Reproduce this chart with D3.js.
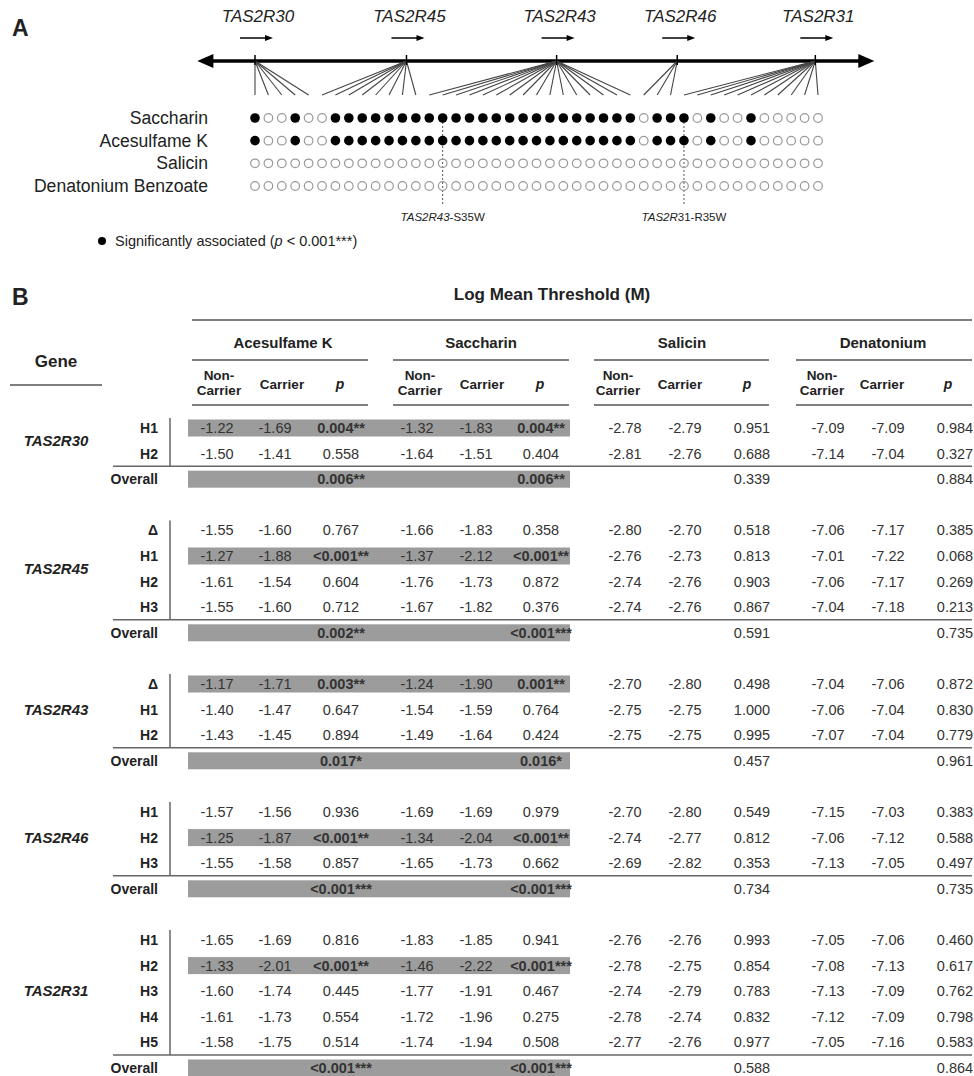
<!DOCTYPE html>
<html>
<head>
<meta charset="utf-8">
<script src="https://cdn.jsdelivr.net/npm/d3@7"></script>
<style>
  body { margin: 0; background: #fff; }
  svg { display: block; }
  text { font-family: "Liberation Sans", Arial, sans-serif; fill: #222; }
</style>
</head>
<body>
<script>
// ---------- panel A data ----------
var genes = ["TAS2R30", "TAS2R45", "TAS2R43", "TAS2R46", "TAS2R31"];
// gene locus, in SNP-index units along the chromosome
var geneLocus = [0, 11.3, 22.5, 31.5, 41.8];
// number of SNPs tested in each gene
var snpCount = [5, 8, 16, 3, 11];
var compoundsA = ["Saccharin", "Acesulfame K", "Salicin", "Denatonium Benzoate"];
// 1 = significantly associated
var saccharinSig   = [1,0,0,1,0,0,1,1,1,1,1,1,1,1,1,1,1,1,1,1,1,1,1,1,1,1,1,1,1,0,1,1,1,0,1,0,0,1,0,0,0,0,0];
var acesulfameSig  = [1,0,0,1,0,0,1,1,1,1,1,1,1,1,1,1,1,1,1,1,1,1,1,1,1,1,1,1,1,0,1,1,1,0,1,0,0,1,0,0,0,0,0];
var salicinSig     = [0,0,0,0,0,0,0,0,0,0,0,0,0,0,0,0,0,0,0,0,0,0,0,0,0,0,0,0,0,0,0,0,0,0,0,0,0,0,0,0,0,0,0];
var denatoniumSig  = [0,0,0,0,0,0,0,0,0,0,0,0,0,0,0,0,0,0,0,0,0,0,0,0,0,0,0,0,0,0,0,0,0,0,0,0,0,0,0,0,0,0,0];
var mutationSnp = [14, 32];
var mutationGene = ["TAS2R43", "TAS2R"];
var mutationRest = ["-S35W", "31-R35W"];

// ---------- panel B data ----------
var compoundsB = ["Acesulfame K", "Saccharin", "Salicin", "Denatonium"];
var haplotypes = [["H1", "H2"], ["\u0394", "H1", "H2", "H3"], ["\u0394", "H1", "H2"], ["H1", "H2", "H3"], ["H1", "H2", "H3", "H4", "H5"]];
// [non-carrier, carrier, p] per gene, per haplotype
var acesulfameK = [
  [[-1.22, -1.69, "0.004**"], [-1.50, -1.41, "0.558"]],
  [[-1.55, -1.60, "0.767"], [-1.27, -1.88, "<0.001**"], [-1.61, -1.54, "0.604"], [-1.55, -1.60, "0.712"]],
  [[-1.17, -1.71, "0.003**"], [-1.40, -1.47, "0.647"], [-1.43, -1.45, "0.894"]],
  [[-1.57, -1.56, "0.936"], [-1.25, -1.87, "<0.001**"], [-1.55, -1.58, "0.857"]],
  [[-1.65, -1.69, "0.816"], [-1.33, -2.01, "<0.001**"], [-1.60, -1.74, "0.445"], [-1.61, -1.73, "0.554"], [-1.58, -1.75, "0.514"]]
];
var saccharin = [
  [[-1.32, -1.83, "0.004**"], [-1.64, -1.51, "0.404"]],
  [[-1.66, -1.83, "0.358"], [-1.37, -2.12, "<0.001**"], [-1.76, -1.73, "0.872"], [-1.67, -1.82, "0.376"]],
  [[-1.24, -1.90, "0.001**"], [-1.54, -1.59, "0.764"], [-1.49, -1.64, "0.424"]],
  [[-1.69, -1.69, "0.979"], [-1.34, -2.04, "<0.001**"], [-1.65, -1.73, "0.662"]],
  [[-1.83, -1.85, "0.941"], [-1.46, -2.22, "<0.001***"], [-1.77, -1.91, "0.467"], [-1.72, -1.96, "0.275"], [-1.74, -1.94, "0.508"]]
];
var salicin = [
  [[-2.78, -2.79, "0.951"], [-2.81, -2.76, "0.688"]],
  [[-2.80, -2.70, "0.518"], [-2.76, -2.73, "0.813"], [-2.74, -2.76, "0.903"], [-2.74, -2.76, "0.867"]],
  [[-2.70, -2.80, "0.498"], [-2.75, -2.75, "1.000"], [-2.75, -2.75, "0.995"]],
  [[-2.70, -2.80, "0.549"], [-2.74, -2.77, "0.812"], [-2.69, -2.82, "0.353"]],
  [[-2.76, -2.76, "0.993"], [-2.78, -2.75, "0.854"], [-2.74, -2.79, "0.783"], [-2.78, -2.74, "0.832"], [-2.77, -2.76, "0.977"]]
];
var denatonium = [
  [[-7.09, -7.09, "0.984"], [-7.14, -7.04, "0.327"]],
  [[-7.06, -7.17, "0.385"], [-7.01, -7.22, "0.068"], [-7.06, -7.17, "0.269"], [-7.04, -7.18, "0.213"]],
  [[-7.04, -7.06, "0.872"], [-7.06, -7.04, "0.830"], [-7.07, -7.04, "0.779"]],
  [[-7.15, -7.03, "0.383"], [-7.06, -7.12, "0.588"], [-7.13, -7.05, "0.497"]],
  [[-7.05, -7.06, "0.460"], [-7.08, -7.13, "0.617"], [-7.13, -7.09, "0.762"], [-7.12, -7.09, "0.798"], [-7.05, -7.16, "0.583"]]
];
var overallAcesulfameK = ["0.006**", "0.002**", "0.017*", "<0.001***", "<0.001***"];
var overallSaccharin   = ["0.006**", "<0.001***", "0.016*", "<0.001***", "<0.001***"];
var overallSalicin     = ["0.339", "0.591", "0.457", "0.734", "0.588"];
var overallDenatonium  = ["0.884", "0.735", "0.961", "0.735", "0.864"];

var w = 974, h = 1076;
var svg = d3.select("body").append("svg").attr("width", w).attr("height", h);
var fmt = d3.formatLocale({decimal: ".", thousands: ",", grouping: [3], currency: ["", ""], minus: "-"}).format(".2f");

// ================= PANEL A =================
svg.append("text").attr("x", 12).attr("y", 36)
  .style("font-size", "23px").style("font-weight", "bold").text("A");

var snpX = d3.scaleLinear().domain([0, 42]).range([255, 818]);
var rowA = d3.scalePoint().domain(compoundsA).range([118, 186]);
var axisY = 61, fanY = 95;

// main chromosome axis with two arrow heads
var axL = snpX(-4.3), axR = snpX(46.2);
svg.append("line").attr("x1", axL + 10).attr("x2", axR - 10)
  .attr("y1", axisY).attr("y2", axisY)
  .attr("stroke", "#000").attr("stroke-width", 3.5);
svg.append("path")
  .attr("d", "M" + axL + "," + axisY + "l16,-7l0,14z").attr("fill", "#000");
svg.append("path")
  .attr("d", "M" + axR + "," + axisY + "l-16,-7l0,14z").attr("fill", "#000");

// fan lines from each gene to its SNPs
var first = 0;
genes.forEach(function(g, gi) {
  var gx = snpX(geneLocus[gi]);
  for (var i = first; i < first + snpCount[gi]; i++) {
    svg.append("line")
      .attr("x1", gx).attr("y1", axisY)
      .attr("x2", snpX(i)).attr("y2", fanY)
      .attr("stroke", "#444").attr("stroke-width", 1.1);
  }
  first += snpCount[gi];

  // tick on axis
  svg.append("line").attr("x1", gx).attr("x2", gx)
    .attr("y1", axisY - 6).attr("y2", axisY + 4)
    .attr("stroke", "#000").attr("stroke-width", 1.5);

  // gene name
  svg.append("text").attr("x", gx + 3).attr("y", 22)
    .attr("text-anchor", "middle")
    .style("font-size", "17px").style("font-style", "italic").text(g);

  // direction arrow
  svg.append("line").attr("x1", gx - 15).attr("x2", gx + 12)
    .attr("y1", 38).attr("y2", 38)
    .attr("stroke", "#000").attr("stroke-width", 1.5);
  svg.append("path")
    .attr("d", "M" + (gx + 18) + ",38l-8,-3l0,6z").attr("fill", "#000");
});

// dotted marker lines
mutationSnp.forEach(function(s, i) {
  svg.append("line")
    .attr("x1", snpX(s)).attr("x2", snpX(s))
    .attr("y1", rowA("Saccharin")).attr("y2", 206)
    .attr("stroke", "#555").attr("stroke-width", 1)
    .attr("stroke-dasharray", "2,2");
  var t = svg.append("text").attr("x", snpX(s)).attr("y", 221)
    .attr("text-anchor", "middle").style("font-size", "11.5px");
  t.append("tspan").style("font-style", "italic").text(mutationGene[i]);
  t.append("tspan").text(mutationRest[i]);
});

// dot rows
var sigRows = [saccharinSig, acesulfameSig, salicinSig, denatoniumSig];
compoundsA.forEach(function(c, ci) {
  svg.append("text").attr("x", 208).attr("y", rowA(c) + 6)
    .attr("text-anchor", "end").style("font-size", "17.6px").text(c);
  svg.selectAll(".dot" + ci)
    .data(sigRows[ci])
    .enter().append("circle")
    .attr("cx", function(d, i) { return snpX(i); })
    .attr("cy", rowA(c))
    .attr("r", function(d) { return d ? 4.8 : 4.3; })
    .attr("fill", function(d) { return d ? "#000" : "none"; })
    .attr("stroke", function(d) { return d ? "none" : "#999"; })
    .attr("stroke-width", 1.2);
});

// legend
svg.append("circle").attr("cx", 102).attr("cy", 241).attr("r", 4).attr("fill", "#000");
var lg = svg.append("text").attr("x", 115).attr("y", 246).style("font-size", "14.5px");
lg.append("tspan").text("Significantly associated (");
lg.append("tspan").style("font-style", "italic").text("p");
lg.append("tspan").text(" < 0.001***)");

// ================= PANEL B =================
svg.append("text").attr("x", 12).attr("y", 305)
  .style("font-size", "23px").style("font-weight", "bold").text("B");

svg.append("text").attr("x", 552).attr("y", 300).attr("text-anchor", "middle")
  .style("font-size", "17px").style("font-weight", "bold").text("Log Mean Threshold (M)");

var lineColor = "#555";
svg.append("line").attr("x1", 192).attr("x2", 972).attr("y1", 320).attr("y2", 320)
  .attr("stroke", lineColor).attr("stroke-width", 1.5);

svg.append("text").attr("x", 56).attr("y", 367).attr("text-anchor", "middle")
  .style("font-size", "17px").style("font-weight", "bold").text("Gene");
svg.append("line").attr("x1", 10).attr("x2", 102).attr("y1", 385).attr("y2", 385)
  .attr("stroke", lineColor).attr("stroke-width", 1.5);

var groupCenter = [283, 481, 682, 883];
var groupSpan = [[192, 368], [393, 569], [594, 769], [796, 972]];
var subNC = [219, 420, 618, 822], subC = [282, 482, 680, 882], subP = [340, 540, 747, 948];
var colX = [217, 275, 341, 417, 476, 541, 625, 685, 752, 828, 888, 955];

compoundsB.forEach(function(c, ci) {
  svg.append("text").attr("x", groupCenter[ci]).attr("y", 348).attr("text-anchor", "middle")
    .style("font-size", "15px").style("font-weight", "bold").text(c);
  [360, 405].forEach(function(y) {
    svg.append("line").attr("x1", groupSpan[ci][0]).attr("x2", groupSpan[ci][1])
      .attr("y1", y).attr("y2", y).attr("stroke", lineColor).attr("stroke-width", 1.5);
  });
  var nc = svg.append("text").attr("text-anchor", "middle")
    .style("font-size", "13.5px").style("font-weight", "bold");
  nc.append("tspan").attr("x", subNC[ci]).attr("y", 380).text("Non-");
  nc.append("tspan").attr("x", subNC[ci]).attr("y", 395).text("Carrier");
  svg.append("text").attr("x", subC[ci]).attr("y", 389).attr("text-anchor", "middle")
    .style("font-size", "13.5px").style("font-weight", "bold").text("Carrier");
  svg.append("text").attr("x", subP[ci]).attr("y", 389).attr("text-anchor", "middle")
    .style("font-size", "14px").style("font-weight", "bold").style("font-style", "italic").text("p");
});

// build table rows
var tables = [acesulfameK, saccharin, salicin, denatonium];
var overalls = [overallAcesulfameK, overallSaccharin, overallSalicin, overallDenatonium];
var rowY = d3.scaleLinear().domain([0, 25]).range([428, 1068]);
var pNum = function(p) { return parseFloat(p.replace("<", "")); };

var k = 0;
genes.forEach(function(g, gi) {
  var k0 = k;
  var grp = svg.append("g");
  haplotypes[gi].forEach(function(hp, hi) {
    var y = rowY(k);
    var sig = acesulfameK[gi][hi][2].indexOf("*") >= 0;
    if (sig) {
      grp.append("rect").attr("x", 188).attr("y", y - 8.5).attr("width", 382).attr("height", 17)
        .attr("fill", "#9c9c9c");
    }
    grp.append("text").attr("x", 158).attr("y", y + 5).attr("text-anchor", "end")
      .style("font-size", "14px").style("font-weight", "bold").text(hp);
    tables.forEach(function(tb, ci) {
      var v = tb[gi][hi];
      [fmt(v[0]), fmt(v[1]), v[2]].forEach(function(s, j) {
        grp.append("text").attr("x", colX[ci * 3 + j]).attr("y", y + 5)
          .attr("text-anchor", "middle")
          .style("font-size", "14.5px")
          .style("fill", "#333")
          .style("font-weight", (j == 2 && v[2].indexOf("*") >= 0) ? "bold" : "normal")
          .text(s);
      });
    });
    k++;
  });

  // overall row
  var yo = rowY(k);
  var sepY = yo - 13;
  svg.append("line").attr("x1", 113).attr("x2", 972).attr("y1", sepY).attr("y2", sepY)
    .attr("stroke", "#666").attr("stroke-width", 1.5);
  svg.append("line").attr("x1", 170).attr("x2", 170).attr("y1", rowY(k0) - 10).attr("y2", sepY)
    .attr("stroke", "#666").attr("stroke-width", 1.5);
  if (pNum(overallAcesulfameK[gi]) < 0.05 || pNum(overallSaccharin[gi]) < 0.05) {
    svg.append("rect").attr("x", 188).attr("y", yo - 8.5).attr("width", 382).attr("height", 17)
      .attr("fill", "#9c9c9c");
  }
  svg.append("text").attr("x", 158).attr("y", yo + 5).attr("text-anchor", "end")
    .style("font-size", "14px").style("font-weight", "bold").text("Overall");
  overalls.forEach(function(ov, ci) {
    svg.append("text").attr("x", colX[ci * 3 + 2]).attr("y", yo + 5)
      .attr("text-anchor", "middle").style("font-size", "14.5px").style("fill", "#333")
      .style("font-weight", ov[gi].indexOf("*") >= 0 ? "bold" : "normal")
      .text(ov[gi]);
  });

  // gene label at middle of its haplotype rows
  var ym = (rowY(k0) + rowY(k - 1)) / 2;
  svg.append("text").attr("x", 56).attr("y", ym + 5).attr("text-anchor", "middle")
    .style("font-size", "15px").style("font-weight", "bold").style("font-style", "italic")
    .text(g);

  k += 2; // overall row + blank row
});
</script>
</body>
</html>
